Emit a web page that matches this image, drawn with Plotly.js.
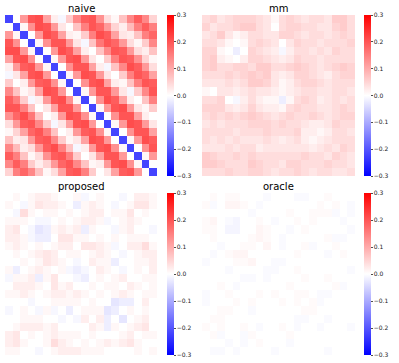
<!DOCTYPE html>
<html>
<head>
<meta charset="utf-8">
<script src="https://cdn.plot.ly/plotly-3.0.1.min.js"></script>
<style>
  html, body { margin: 0; padding: 0; background: #fff; }
  #plot { width: 399px; height: 363px; }
</style>
</head>
<body>
<div id="plot"></div>
<script>
// panel titles
const titles = ['naive', 'mm', 'proposed', 'oracle'];
const tickVals = [-0.3, -0.2, -0.1, 0.0, 0.1, 0.2, 0.3];
const tickText = ['\u22120.3', '\u22120.2', '\u22120.1', '0.0', '0.1', '0.2', '0.3'];

const naive = [
  [-0.22, 0.00, 0.12, 0.20, 0.21, 0.11, 0.02, -0.01, 0.06, 0.14, 0.19, 0.20, 0.13, 0.04, 0.01, 0.07, 0.14, 0.19, 0.14, 0.05],
  [0.00, -0.22, 0.01, 0.13, 0.21, 0.20, 0.12, 0.03, 0.00, 0.07, 0.15, 0.20, 0.18, 0.12, 0.05, 0.02, 0.08, 0.15, 0.19, 0.15],
  [0.12, 0.01, -0.22, 0.00, 0.12, 0.21, 0.19, 0.11, 0.02, 0.01, 0.06, 0.15, 0.21, 0.19, 0.11, 0.03, 0.02, 0.07, 0.15, 0.18],
  [0.20, 0.13, 0.00, -0.22, 0.01, 0.13, 0.20, 0.20, 0.12, 0.03, -0.01, 0.07, 0.16, 0.20, 0.18, 0.12, 0.04, 0.01, 0.06, 0.14],
  [0.21, 0.21, 0.12, 0.01, -0.22, 0.00, 0.12, 0.21, 0.19, 0.11, 0.02, 0.00, 0.07, 0.14, 0.20, 0.19, 0.12, 0.04, 0.02, 0.07],
  [0.11, 0.20, 0.21, 0.13, 0.00, -0.22, 0.01, 0.12, 0.20, 0.21, 0.12, 0.03, 0.00, 0.06, 0.15, 0.20, 0.19, 0.13, 0.05, 0.01],
  [0.02, 0.12, 0.19, 0.20, 0.12, 0.01, -0.22, 0.00, 0.13, 0.20, 0.20, 0.11, 0.02, -0.01, 0.07, 0.14, 0.21, 0.19, 0.12, 0.04],
  [-0.01, 0.03, 0.11, 0.20, 0.21, 0.12, 0.00, -0.22, 0.01, 0.12, 0.21, 0.20, 0.12, 0.03, 0.00, 0.06, 0.15, 0.20, 0.18, 0.11],
  [0.06, 0.00, 0.02, 0.12, 0.19, 0.20, 0.13, 0.01, -0.22, 0.00, 0.13, 0.20, 0.21, 0.11, 0.02, 0.01, 0.07, 0.15, 0.20, 0.19],
  [0.14, 0.07, 0.01, 0.03, 0.11, 0.21, 0.20, 0.12, 0.00, -0.22, 0.01, 0.12, 0.20, 0.20, 0.12, 0.03, -0.01, 0.06, 0.14, 0.20],
  [0.19, 0.15, 0.06, -0.01, 0.02, 0.12, 0.20, 0.21, 0.13, 0.01, -0.22, 0.00, 0.13, 0.21, 0.19, 0.11, 0.02, 0.00, 0.07, 0.15],
  [0.20, 0.20, 0.15, 0.07, 0.00, 0.03, 0.11, 0.20, 0.20, 0.12, 0.00, -0.22, 0.01, 0.12, 0.20, 0.21, 0.12, 0.03, 0.01, 0.06],
  [0.13, 0.18, 0.21, 0.16, 0.07, 0.00, 0.02, 0.12, 0.21, 0.20, 0.13, 0.01, -0.22, 0.00, 0.13, 0.20, 0.20, 0.11, 0.02, 0.00],
  [0.04, 0.12, 0.19, 0.20, 0.14, 0.06, -0.01, 0.03, 0.11, 0.20, 0.21, 0.12, 0.00, -0.22, 0.01, 0.12, 0.21, 0.20, 0.12, 0.03],
  [0.01, 0.05, 0.11, 0.18, 0.20, 0.15, 0.07, 0.00, 0.02, 0.12, 0.19, 0.20, 0.13, 0.01, -0.22, 0.00, 0.13, 0.20, 0.20, 0.11],
  [0.07, 0.02, 0.03, 0.12, 0.19, 0.20, 0.14, 0.06, 0.01, 0.03, 0.11, 0.21, 0.20, 0.12, 0.00, -0.22, 0.01, 0.12, 0.21, 0.19],
  [0.14, 0.08, 0.02, 0.04, 0.12, 0.19, 0.21, 0.15, 0.07, -0.01, 0.02, 0.12, 0.20, 0.21, 0.13, 0.01, -0.22, 0.00, 0.13, 0.20],
  [0.19, 0.15, 0.07, 0.01, 0.04, 0.13, 0.19, 0.20, 0.15, 0.06, 0.00, 0.03, 0.11, 0.20, 0.20, 0.12, 0.00, -0.22, 0.01, 0.12],
  [0.14, 0.19, 0.15, 0.06, 0.02, 0.05, 0.12, 0.18, 0.20, 0.14, 0.07, 0.01, 0.02, 0.12, 0.20, 0.21, 0.13, 0.01, -0.22, 0.00],
  [0.05, 0.15, 0.18, 0.14, 0.07, 0.01, 0.04, 0.11, 0.19, 0.20, 0.15, 0.06, 0.00, 0.03, 0.11, 0.19, 0.20, 0.12, 0.00, -0.22]
];

const mm = [
  [.04, .05, .03, .04, .05, .05, .05, .04, .03, .01, .04, .05, .04, .03, .04, .04, .03, .06, .06, .04],
  [.05, .03, .04, .04, .05, .06, .06, .04, .03, .00, .04, .05, .05, .04, .04, .03, .03, .05, .06, .04],
  [.03, .04, .06, .03, .01, .02, .04, .04, .03, .03, .05, .05, .04, .03, .04, .04, .03, .04, .05, .04],
  [.04, .04, .03, .01, .00, .01, .04, .05, .04, .03, .00, .03, .05, .04, .04, .03, .04, .04, .04, .05],
  [.05, .05, .01, .00, -.02, .00, .05, .04, .03, .02, -.01, .02, .04, .04, .03, .04, .03, .05, .04, .04],
  [.05, .06, .02, .01, .00, .02, .05, .05, .04, .03, .02, .03, .05, .04, .04, .03, .04, .04, .04, .04],
  [.05, .06, .04, .04, .05, .05, .04, .06, .06, .04, .04, .05, .06, .05, .04, .03, .04, .05, .06, .05],
  [.04, .04, .04, .05, .04, .05, .06, .05, .06, .03, .02, .03, .05, .05, .04, .03, .02, .04, .05, .05],
  [.03, .03, .03, .04, .03, .04, .06, .06, .05, .03, .01, .02, .04, .05, .05, .04, .03, .04, .04, .04],
  [.01, .00, .03, .03, .02, .03, .04, .03, .03, .02, .01, .02, .03, .04, .04, .03, .03, .04, .04, .03],
  [.04, .04, .05, .00, -.01, .02, .04, .02, .01, .01, -.02, .01, .04, .05, .04, .02, .03, .04, .03, .04],
  [.05, .05, .05, .03, .02, .03, .05, .03, .02, .02, .01, .04, .05, .04, .04, .03, .03, .04, .05, .04],
  [.04, .05, .04, .05, .04, .05, .06, .05, .04, .03, .04, .05, .04, .04, .05, .04, .03, .04, .05, .05],
  [.03, .04, .03, .04, .04, .04, .05, .05, .05, .04, .05, .04, .04, .03, .02, .02, .03, .05, .04, .04],
  [.04, .04, .04, .04, .03, .04, .04, .04, .05, .04, .04, .04, .05, .02, .02, .01, .02, .04, .04, .03],
  [.04, .03, .04, .03, .04, .03, .03, .03, .04, .03, .02, .03, .04, .02, .01, .02, .03, .04, .04, .04],
  [.03, .03, .03, .04, .03, .04, .04, .02, .03, .03, .03, .03, .03, .03, .02, .03, .04, .03, .05, .04],
  [.06, .05, .04, .04, .05, .04, .05, .04, .04, .04, .04, .04, .04, .05, .04, .04, .03, .05, .04, .03],
  [.06, .06, .05, .04, .04, .04, .06, .05, .04, .04, .03, .05, .05, .04, .04, .04, .05, .04, .04, .03],
  [.04, .04, .04, .05, .04, .04, .05, .05, .04, .03, .04, .04, .05, .04, .03, .04, .04, .03, .03, .04]
];

const proposed = [
  [.00, .01, .00, .01, .02, .02, .01, .00, .00, .01, -.01, .00, .01, .00, .00, -.01, .00, .02, .02, .01],
  [.01, .00, -.01, .01, .03, .02, .02, .01, .00, -.02, .01, .02, .01, .00, -.01, .00, .01, .03, .03, .01],
  [.00, -.01, .04, .01, .00, .01, .01, .00, .01, .00, .01, .02, .02, .00, .01, .01, .03, .00, .01, .00],
  [.01, .01, .01, .00, -.01, -.01, .00, .01, .00, .01, .02, .02, .01, -.01, .00, .01, .02, .01, .00, .00],
  [.02, .03, .00, -.01, -.03, -.02, .01, .02, .01, .02, -.02, .01, .00, .00, -.01, .01, .02, .00, .00, -.01],
  [.02, .02, .01, -.01, -.02, -.02, .00, .03, .03, .01, .01, .00, .01, .00, .01, .00, .01, .01, .01, .00],
  [.01, .02, .01, .00, .01, .00, .01, .02, .02, .00, .03, .03, .02, .01, -.01, .00, .02, .02, .04, .01],
  [.00, .01, .00, .01, .02, .03, .02, .00, .01, .01, .00, .01, .02, .01, .00, -.01, .00, .01, .02, .02],
  [.00, .00, .01, .00, .01, .03, .02, .01, .00, -.01, .00, .02, .01, .01, -.02, .00, .00, .01, .01, .02],
  [.01, -.02, .00, .01, .02, .01, .00, .01, -.01, -.02, -.01, .00, .02, .01, .00, -.01, .00, .01, .00, .02],
  [-.01, .01, .01, .02, -.02, .01, .03, .00, .00, -.01, -.02, .00, .01, .00, .01, .02, .00, .00, .01, .01],
  [.00, .02, .02, .02, .01, .00, .03, .01, .02, .00, .00, .01, .00, .01, .01, .00, .02, .01, .00, .01],
  [.01, .01, .02, .01, .00, .01, .02, .02, .01, .02, .01, .00, .01, .00, .01, .02, .01, .00, .01, .01],
  [.00, .00, .00, -.01, .00, .00, .01, .01, .01, .01, .00, .01, .00, .00, -.03, -.02, -.02, .00, .02, .00],
  [-.01, .00, .01, .00, -.01, .01, -.01, .00, -.02, .00, .01, .01, .01, -.03, -.02, .00, .01, .00, .01, .00],
  [.00, .00, .01, .01, .01, .00, .00, -.01, .00, -.01, .02, .00, .02, -.02, .00, -.03, .00, .01, .02, .00],
  [.00, .01, .02, .02, .02, .01, .02, .00, .00, .00, .00, .02, .01, -.02, .01, .00, .01, .02, .03, .00],
  [.02, .03, .00, .01, .00, .01, .02, .01, .01, .01, .00, .01, .00, .00, .00, .01, .02, .00, .01, .01],
  [.02, .03, .01, .00, .00, .01, .04, .02, .01, .00, .01, .00, .01, .02, .01, .02, .03, .01, .00, .00],
  [.01, .01, .00, .00, -.01, .00, .01, .02, .02, .02, .01, .01, .01, .00, .00, .00, .00, .01, .00, .01]
];

const oracle = [
  [.000, .006, .000, .006, .006, .000, .000, .000, -.006, .000, .000, .000, -.006, -.006, .000, .000, .006, .000, .000, .000],
  [.006, -.006, .000, .012, .012, .006, .000, -.006, .000, .000, .000, .000, .000, .000, .000, .006, .000, .006, .000, -.006],
  [.000, .000, .000, .000, .000, .000, -.006, .000, .000, .000, .000, .006, .000, .000, .006, .006, .006, -.006, .000, -.006],
  [.006, .012, .000, -.006, -.012, .000, .000, .006, .000, -.006, .000, .000, .006, .000, .006, .000, .000, .000, -.006, .000],
  [.006, .006, .000, -.012, -.012, .000, .000, .012, .006, .000, .000, -.006, .000, .006, .000, .000, .000, .000, .000, -.006],
  [.000, .006, .000, .000, .000, .000, .006, .012, .006, .000, -.006, .000, .000, .000, .000, .000, .006, -.006, -.006, .000],
  [.000, .000, -.006, .000, .000, .006, .006, .000, .012, .000, -.006, .000, .000, .006, -.006, .000, .000, .006, .000, .000],
  [.000, -.006, .000, .006, .012, .012, .000, .000, .000, .000, .000, .000, .006, .000, .000, .000, -.006, .000, .006, .000],
  [-.006, .000, .000, .000, .006, .006, .012, .000, .000, -.006, -.006, .000, .000, .000, .000, .000, .000, .000, .000, .000],
  [.000, .000, .000, -.006, .000, .000, .000, .000, -.006, -.006, .000, .000, .006, .000, .000, .000, .000, .000, .000, -.006],
  [.000, .000, .000, .000, .000, -.006, -.006, .000, -.006, .000, .000, .000, .000, .006, .000, .000, .006, .000, .000, .000],
  [.000, .000, .006, .000, -.006, .000, .000, .000, .000, .000, .000, .006, .000, .000, .000, .000, .000, .006, -.006, .000],
  [-.006, .000, .000, .006, .000, .000, .000, .006, .000, .006, .000, .000, .006, .006, .000, -.006, -.006, .000, .000, .000],
  [-.006, .000, .000, .000, .006, .000, .006, .000, .000, .000, .006, .000, .006, .000, .006, -.006, .000, .000, .000, .000],
  [.000, .000, .006, .006, .000, .000, -.006, .000, .000, .000, .000, .000, .000, .006, .006, .000, .000, .000, .000, .000],
  [.000, .006, .006, .000, .000, .000, .000, .000, .000, .000, .000, .000, -.006, -.006, .000, .000, -.006, .000, .000, .000],
  [.006, .000, .006, .000, .000, .006, .000, -.006, .000, .000, .006, .000, -.006, .000, .000, -.006, .000, .000, .000, -.006],
  [.000, .006, -.006, .000, .000, -.006, .006, .000, .000, .000, .000, .006, .000, .000, .000, .000, .000, .000, .000, .000],
  [.000, .000, .000, -.006, .000, -.006, .000, .006, .000, .000, .000, -.006, .000, .000, .000, .000, .000, .000, .000, .000],
  [.000, -.006, -.006, .000, -.006, .000, .000, .000, .000, -.006, .000, .000, .000, .000, .000, .000, -.006, .000, .000, .000]
];

const W = 399, H = 363;
const bwr = [[0, 'rgb(0,0,255)'], [0.5, 'rgb(255,255,255)'], [1, 'rgb(255,0,0)']];

// pixel boxes for each panel: [left, right, top, bottom], colorbar left
const boxes = [
  { x0: 5, x1: 157, y0: 15, y1: 176, cb: 167 },
  { x0: 202, x1: 355, y0: 15, y1: 176, cb: 364 },
  { x0: 5, x1: 157, y0: 193, y1: 355, cb: 167 },
  { x0: 202, x1: 355, y0: 193, y1: 355, cb: 364 }
];
const mats = [naive, mm, proposed, oracle];

const data = [];
const layout = {
  width: W, height: H,
  margin: { l: 0, r: 0, t: 0, b: 0 },
  paper_bgcolor: '#fff', plot_bgcolor: '#fff',
  font: { family: 'DejaVu Sans', color: '#000' },
  showlegend: false,
  annotations: []
};

mats.forEach(function (z, i) {
  const b = boxes[i];
  const sfx = i === 0 ? '' : String(i + 1);
  data.push({
    type: 'heatmap',
    z: z,
    xaxis: 'x' + sfx,
    yaxis: 'y' + sfx,
    zmin: -0.3, zmax: 0.3,
    colorscale: bwr,
    hoverinfo: 'z',
    colorbar: {
      x: b.cb / W, xanchor: 'left',
      y: 1 - b.y0 / H, yanchor: 'top',
      len: (b.y1 - b.y0) / H, lenmode: 'fraction',
      thickness: 7, thicknessmode: 'pixels',
      xpad: 0, ypad: 0,
      outlinewidth: 0,
      ticks: 'outside', ticklen: 2, tickwidth: 0.8, tickcolor: '#222',
      tickvals: tickVals, ticktext: tickText,
      tickfont: { size: 6, family: 'DejaVu Sans', color: '#222' }
    }
  });
  layout['xaxis' + sfx] = {
    domain: [b.x0 / W, b.x1 / W], anchor: 'y' + sfx,
    visible: false, showgrid: false, zeroline: false, fixedrange: true
  };
  layout['yaxis' + sfx] = {
    domain: [1 - b.y1 / H, 1 - b.y0 / H], anchor: 'x' + sfx,
    autorange: 'reversed',
    visible: false, showgrid: false, zeroline: false, fixedrange: true
  };
  layout.annotations.push({
    text: titles[i],
    xref: 'paper', yref: 'paper',
    x: (b.x0 + b.x1) / 2 / W, xanchor: 'center',
    y: 1 - (b.y0 + 1) / H, yanchor: 'bottom',
    showarrow: false,
    font: { size: 10, family: 'DejaVu Sans', color: '#000' }
  });
});

Plotly.newPlot('plot', data, layout, { displayModeBar: false, staticPlot: true });
</script>
</body>
</html>
